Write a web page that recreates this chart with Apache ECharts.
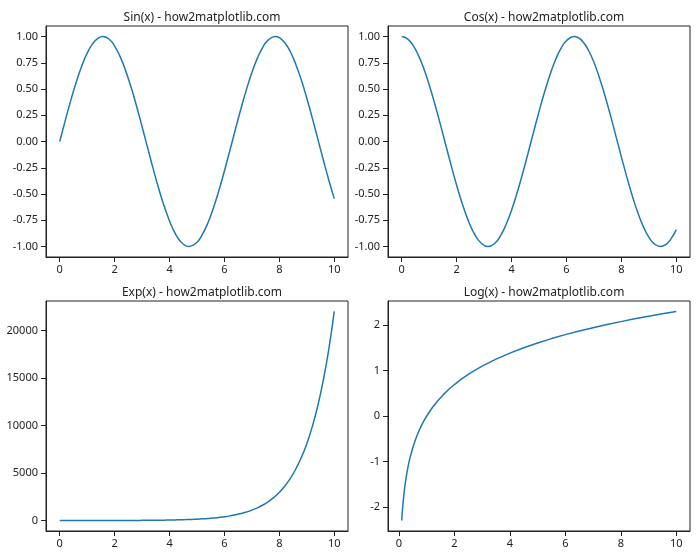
<!DOCTYPE html>
<html>
<head>
<meta charset="utf-8">
<script src="https://cdn.jsdelivr.net/npm/echarts@6/dist/echarts.min.js"></script>
<style>html,body{margin:0;padding:0;background:#fff}#c{width:700px;height:560px}</style>
</head>
<body>
<div id="c"></div>
<script>
const titles = ["Sin(x) - how2matplotlib.com", "Cos(x) - how2matplotlib.com", "Exp(x) - how2matplotlib.com", "Log(x) - how2matplotlib.com"];
const xSin = [0,0.2,0.4,0.6,0.8,1.0,1.2,1.4,1.571,1.8,2.0,2.2,2.4,2.6,2.8,3.0,3.2,3.4,3.6,3.8,4.0,4.2,4.4,4.6,4.712,5.0,5.2,5.4,5.6,5.8,6.0,6.2,6.4,6.6,6.8,7.0,7.2,7.4,7.6,7.854,8.0,8.2,8.4,8.6,8.8,9.0,9.2,9.4,9.6,9.8,10.0];
const sinVals = [0,0.199,0.389,0.565,0.717,0.841,0.932,0.985,1.000,0.974,0.909,0.808,0.675,0.516,0.335,0.141,-0.058,-0.256,-0.443,-0.612,-0.757,-0.872,-0.952,-0.994,-1.000,-0.959,-0.883,-0.773,-0.631,-0.465,-0.279,-0.083,0.117,0.312,0.494,0.657,0.794,0.899,0.968,1.000,0.989,0.941,0.855,0.734,0.585,0.412,0.223,0.025,-0.174,-0.366,-0.544];
const xCos = [0,0.2,0.4,0.6,0.8,1.0,1.2,1.4,1.6,1.8,2.0,2.2,2.4,2.6,2.8,3.0,3.142,3.4,3.6,3.8,4.0,4.2,4.4,4.6,4.8,5.0,5.2,5.4,5.6,5.8,6.0,6.283,6.4,6.6,6.8,7.0,7.2,7.4,7.6,7.8,8.0,8.2,8.4,8.6,8.8,9.0,9.2,9.425,9.6,9.8,10.0];
const cosVals = [1.000,0.980,0.921,0.825,0.697,0.540,0.362,0.170,-0.029,-0.227,-0.416,-0.589,-0.737,-0.857,-0.942,-0.990,-1.000,-0.967,-0.897,-0.791,-0.654,-0.490,-0.307,-0.112,0.087,0.284,0.469,0.635,0.776,0.886,0.960,1.000,0.993,0.951,0.869,0.754,0.608,0.438,0.251,0.054,-0.146,-0.339,-0.519,-0.679,-0.811,-0.911,-0.975,-1.000,-0.985,-0.930,-0.839];
const xExp = [0,0.2,0.4,0.6,0.8,1.0,1.2,1.4,1.6,1.8,2.0,2.2,2.4,2.6,2.8,3.0,3.2,3.4,3.6,3.8,4.0,4.2,4.4,4.6,4.8,5.0,5.2,5.4,5.6,5.8,6.0,6.2,6.4,6.6,6.8,7.0,7.2,7.4,7.6,7.8,8.0,8.2,8.4,8.6,8.8,9.0,9.2,9.4,9.6,9.8,10.0];
const expVals = [1,1.221,1.492,1.822,2.226,2.718,3.320,4.055,4.953,6.050,7.389,9.025,11.02,13.46,16.44,20.09,24.53,29.96,36.60,44.70,54.60,66.69,81.45,99.48,121.5,148.4,181.3,221.4,270.4,330.3,403.4,492.7,601.8,735.1,897.8,1096.6,1339.4,1636.0,1998.2,2440.6,2981.0,3641.0,4447.1,5431.7,6634.2,8103.1,9897.1,12088.4,14764.8,18033.7,22026.5];
const xLog = [0.1,0.12,0.15,0.2,0.25,0.3,0.35,0.4,0.5,0.6,0.7,0.8,0.9,1.0,1.2,1.4,1.6,1.8,2.0,2.25,2.5,2.75,3.0,3.5,4.0,4.5,5.0,5.5,6.0,6.5,7.0,7.5,8.0,8.5,9.0,9.5,10.0];
const logVals = [-2.303,-2.120,-1.897,-1.609,-1.386,-1.204,-1.050,-0.916,-0.693,-0.511,-0.357,-0.223,-0.105,0,0.182,0.336,0.470,0.588,0.693,0.811,0.916,1.012,1.099,1.253,1.386,1.504,1.609,1.705,1.792,1.872,1.946,2.015,2.079,2.140,2.197,2.251,2.303];
const xTicks = [0,2,4,6,8,10];
const trigTicks = [-1,-0.75,-0.5,-0.25,0,0.25,0.5,0.75,1];
const expTicks = [0,5000,10000,15000,20000];
const logTicks = [-2,-1,0,1,2];

const FONT = 'Noto Sans';
const grids = [
  {left:46, top:26, width:302, height:231},
  {left:388, top:26, width:302, height:231},
  {left:46, top:301, width:302, height:230},
  {left:388, top:301, width:302, height:230}
].map(g => Object.assign({show:true, borderColor:'#222', borderWidth:1, backgroundColor:'#fff'}, g));

function xAxis(i, min, max) {
  return {
    type:'value', gridIndex:i, min:min, max:max,
    splitLine:{show:false},
    axisLine:{show:true, onZero:false, lineStyle:{color:'#222', width:1}},
    axisTick:{show:true, length:5, lineStyle:{color:'#222'}, customValues:xTicks},
    axisLabel:{customValues:xTicks, margin:7, color:'#222', fontFamily:FONT, fontSize:11}
  };
}
function yAxis(i, min, max, ticks, fmt) {
  return {
    type:'value', gridIndex:i, min:min, max:max,
    splitLine:{show:false},
    axisLine:{show:true, onZero:false, lineStyle:{color:'#222', width:1}},
    axisTick:{show:true, length:5, lineStyle:{color:'#222'}, customValues:ticks},
    axisLabel:{customValues:ticks, margin:8, color:'#222', fontFamily:FONT, fontSize:11, formatter:fmt}
  };
}
const f2 = v => v.toFixed(2);
const f0 = v => String(Math.round(v));

function pairs(xs, ys) { return xs.map((x, k) => [x, ys[k]]); }
function line(i, data, sm) {
  return {type:'line', xAxisIndex:i, yAxisIndex:i, data:data, showSymbol:false, symbol:'none',
    smooth:sm, lineStyle:{color:'#1f77b4', width:1.5}, animation:false};
}

const chart = echarts.init(document.getElementById('c'), null, {renderer:'canvas'});
chart.setOption({
  animation:false,
  backgroundColor:'#fff',
  title: titles.map((t, i) => ({
    text:t, left: grids[i].left + grids[i].width/2, top: (i < 2 ? 7 : 282), textAlign:'center',
    textStyle:{fontFamily:FONT, fontSize:12, fontWeight:'normal', color:'#222'}
  })),
  grid: grids,
  xAxis: [xAxis(0,-0.5,10.5), xAxis(1,-0.5,10.5), xAxis(2,-0.5,10.5), xAxis(3,-0.395,10.495)],
  yAxis: [yAxis(0,-1.1,1.1,trigTicks,f2), yAxis(1,-1.1,1.1,trigTicks,f2), yAxis(2,-1100,23127,expTicks,f0), yAxis(3,-2.533,2.533,logTicks,f0)],
  series: [
    line(0, pairs(xSin, sinVals), 0.5),
    line(1, pairs(xCos, cosVals), 0.5),
    line(2, pairs(xExp, expVals), 0.5),
    line(3, pairs(xLog, logVals), false)
  ]
});
</script>
</body>
</html>
